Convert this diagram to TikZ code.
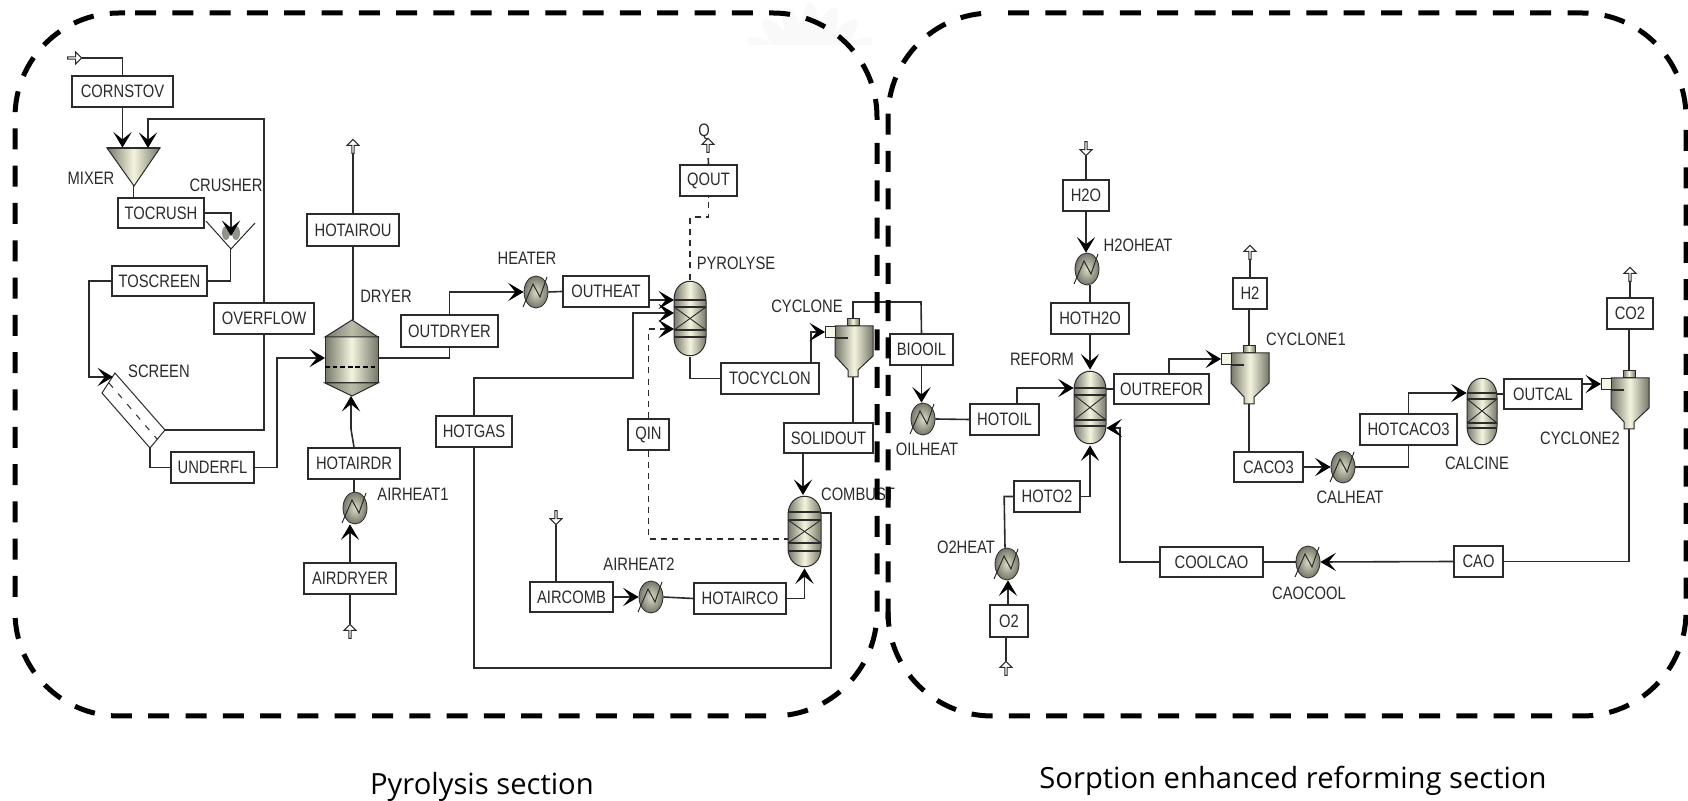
\documentclass[tikz,border=0pt]{standalone}
\usepackage{fontspec}
\usetikzlibrary{arrows.meta,shapes.geometric,shapes.arrows,calc}
\newfontfamily\lblf[FakeStretch=0.82]{Liberation Sans}
\newfontfamily\capf{Open Sans}
\definecolor{ink}{HTML}{2B2B2B}
\definecolor{gdark}{HTML}{77776A}
\definecolor{gmid}{HTML}{F4F4DE}
\tikzset{
  x=0.5pt,y=-0.5pt,
  barb/.tip={Stealth[length=7.8pt,width=9.2pt,inset=3.7pt,line width=0.5pt,color=black]},
  line/.style={draw=ink,line width=0.8pt},
  flow/.style={line,-barb},
  qline/.style={draw=ink,line width=0.8pt,dash pattern=on 3pt off 2.6pt},
  sbox/.style={draw=ink,line width=0.85pt,fill=white,inner sep=0pt,text=ink,font=\lblf\fontsize{9}{10}\selectfont},
  lbl/.style={inner sep=0pt,text=ink,font=\lblf\fontsize{9}{10}\selectfont},
  equip/.style={inner sep=0pt,rectangle},
  hxn/.style={ellipse,draw=ink,line width=0.4pt,inner color=gmid!80!gdark,outer color=gdark,inner sep=0pt,minimum width=12pt,minimum height=16pt},
  body/.style={draw=ink,line width=0.5pt,left color=gdark,right color=gdark,middle color=gmid},
  darkbody/.style={body,middle color=gmid!55!gdark},
  portup/.style={single arrow,draw=ink,fill=white,line width=0.5pt,minimum width=6pt,minimum height=7pt,single arrow head extend=1pt,inner sep=0pt,shape border rotate=90},
  portdown/.style={portup,shape border rotate=270},
  portright/.style={portup,shape border rotate=0},
  dashbox/.style={draw=black,line width=2.5pt,dash pattern=on 10.5pt off 8.15pt,rounded corners=52pt},
  capt/.style={inner sep=0pt,text=black,font=\capf\fontsize{14.6}{16}\selectfont},
}
\newcommand\bx[6]{%
  \pgfmathsetmacro\bxw{(#4-#2)/2}\pgfmathsetmacro\bxh{(#5-#3)/2}%
  \node[sbox,minimum width=\bxw pt,minimum height=\bxh pt] (#1) at ({(#2+#4)/2},{(#3+#5)/2}) {#6};}
\newcommand\eqn[5]{%
  \pgfmathsetmacro\bxw{(#4-#2)/2}\pgfmathsetmacro\bxh{(#5-#3)/2}%
  \node[equip,minimum width=\bxw pt,minimum height=\bxh pt] (#1) at ({(#2+#4)/2},{(#3+#5)/2}) {};}
% heat exchanger
\newcommand\hx[3]{%
  \node[hxn] (#1) at (#2,#3) {};
  \draw[draw=ink,line width=0.5pt] ($(#1)+(-13,15)$) -- ($(#1)+(-3,-8)$) -- ($(#1)+(4,5)$) -- ($(#1)+(11,-15)$);}
% reactor: name x0 y0 x1 y1 b1 b2 b3 b4
\newcommand\vessel[9]{%
  \eqn{#1}{#2}{#3}{#4}{#5}
  \path[body] (#2,#3+20) .. controls (#2,#3-5) and (#4,#3-5) .. (#4,#3+20) -- (#4,#5-20) .. controls (#4,#5+5) and (#2,#5+5) .. (#2,#5-20) -- cycle;
  \draw[draw=ink,line width=0.9pt] (#2,#6) -- (#4,#6) (#2,#7) -- (#4,#7) (#2,#8) -- (#4,#8) (#2,#9) -- (#4,#9);
  \draw[draw=ink,line width=0.45pt] (#2,#7) -- (#4,#8) (#4,#7) -- (#2,#8);}
% cyclone: name, x0 (body left), ytop
\newcommand\cyclone[3]{%
  \eqn{#1}{#2}{#3}{#2+38}{#3+51}
  \coordinate (#1-top) at (#2+18,#3-7);
  \coordinate (#1-bot) at (#2+18,#3+51);
  \coordinate (#1-in) at (#2-10,#3+6);
  \path[body] (#2+12,#3-7) rectangle (#2+24,#3);
  \path[body] (#2,#3) -- (#2+38,#3) -- (#2+38,#3+30) -- (#2+23,#3+44) -- (#2+23,#3+51) -- (#2+13,#3+51) -- (#2+13,#3+44) -- (#2,#3+30) -- cycle;
  \draw[draw=ink,line width=0.5pt,fill=gmid!70!white] (#2-10,#3+1) rectangle (#2,#3+12);
  \draw[draw=ink,line width=0.6pt] (#2,#3+12) -- (#2+13,#3+12);}
\begin{document}
\begin{tikzpicture}
\useasboundingbox[fill=white] (0,0) rectangle (1688,801);

% faint background crest, cut off below
\begin{scope}
\clip (735,2) rectangle (885,45);
\foreach \a in {-60,-40,-20,0,20,40,60}
  \fill[black!2.5,rotate around={\a:(810,75)}] (810,35) ellipse (9 and 32);
\end{scope}

% ---------- equipment: pyrolysis ----------
\eqn{mixer}{107}{148}{160}{186}
\path[body] (107,148) -- (160,148) -- (134,186) -- cycle;
\draw[draw=ink,line width=0.9pt] (107,148) -- (160,148);
\eqn{crusher}{206}{221}{255}{249}
\fill[gdark!80!white] (226,233) ellipse (4 and 7) (236,233) ellipse (4 and 7);
\draw[draw=ink,line width=0.5pt] (206,221) -- (231,249) -- (255,223);
\coordinate (scr-in) at (113,377);
\coordinate (scr-top) at (165,430);
\coordinate (scr-bot) at (150,448);
\draw[draw=ink,line width=0.5pt,fill=white] (115,373) -- (scr-top) -- (scr-bot) -- (102,393) -- cycle;
\draw[draw=ink,line width=0.5pt,dash pattern=on 3pt off 4pt] (109,383) -- (157,439);
\eqn{dryer}{325}{320}{378}{396}
\path[body] (325,337) rectangle (378,383);
\path[darkbody] (352,320) -- (378,337) -- (325,337) -- cycle;
\path[darkbody] (352,396) -- (378,383) -- (325,383) -- cycle;
\draw[draw=black,line width=0.9pt,dash pattern=on 2.4pt off 1.4pt] (325,367) -- (378,367);
\vessel{pyrolyse}{674}{280}{706}{357}{300}{307}{330}{337}
\vessel{combust}{788}{495}{821}{568}{512}{520}{543}{551}
\cyclone{cyclone}{835}{326}
\hx{heater}{536}{292}
\hx{airheatA}{355}{508}
\hx{airheatB}{651}{597}

% ---------- equipment: reforming ----------
\vessel{reform}{1074}{370}{1106}{445}{388}{395}{420}{426}
\vessel{calcine}{1467}{377}{1497}{446}{393}{399}{423}{428}
\cyclone{cyclonea}{1231}{353}
\cyclone{cycloneb}{1611}{378}
\hx{oilheat}{923}{419}
\hx{htwoheat}{1087}{269}
\hx{calheat}{1343}{467}
\hx{caocool}{1308}{562}
\hx{otwoheat}{1007}{564}

% ---------- boundary ports ----------
\node[portright] (pfeed) at (74,58) {};
\node[portup] (pairout) at (353,147) {};
\node[portup] (pairin) at (350,632) {};
\node[portup] (pq) at (708,146) {};
\node[portdown] (paircomb) at (556,517) {};
\node[portdown] (ph2o) at (1086,148) {};
\node[portup] (ph2) at (1250,253) {};
\node[portup] (pco2) at (1630,275) {};
\node[portup] (po2) at (1006,669) {};

% ---------- stream boxes ----------
\bx{cornstov}{72}{76}{173}{107}{CORNSTOV}
\bx{tocrush}{118}{198}{204}{228}{TOCRUSH}
\bx{toscreen}{112}{266}{207}{296}{TOSCREEN}
\bx{overflow}{214}{303}{314}{334}{OVERFLOW}
\bx{underfl}{171}{452}{254}{483}{UNDERFL}
\bx{hotairou}{307}{214}{399}{246}{HOTAIROU}
\bx{hotairdr}{308}{448}{400}{479}{HOTAIRDR}
\bx{airdryer}{304}{563}{396}{594}{AIRDRYER}
\bx{outdryer}{401}{315}{498}{347}{OUTDRYER}
\bx{outheat}{563}{276}{649}{307}{OUTHEAT}
\bx{qout}{680}{165}{737}{196}{QOUT}
\bx{hotgas}{436}{416}{512}{447}{HOTGAS}
\bx{qin}{628}{419}{669}{450}{QIN}
\bx{tocyclon}{721}{363}{819}{394}{TOCYCLON}
\bx{solidout}{784}{423}{873}{453}{SOLIDOUT}
\bx{aircomb}{530}{582}{613}{612}{AIRCOMB}
\bx{hotairco}{694}{583}{786}{614}{HOTAIRCO}
\bx{biooil}{890}{334}{953}{365}{BIOOIL}
\bx{hotoil}{970}{404}{1039}{435}{HOTOIL}
\bx{h2o}{1063}{180}{1109}{211}{H2O}
\bx{hoth2o}{1051}{303}{1129}{334}{HOTH2O}
\bx{outrefor}{1114}{374}{1209}{404}{OUTREFOR}
\bx{h2}{1233}{278}{1267}{309}{H2}
\bx{caco3}{1234}{452}{1303}{482}{CACO3}
\bx{hotcaco3}{1360}{414}{1457}{445}{HOTCACO3}
\bx{outcal}{1504}{379}{1582}{409}{OUTCAL}
\bx{co2}{1607}{298}{1653}{329}{CO2}
\bx{cao}{1454}{546}{1503}{577}{CAO}
\bx{coolcao}{1160}{547}{1263}{577}{COOLCAO}
\bx{hoto2}{1014}{481}{1080}{512}{HOTO2}
\bx{o2}{990}{605}{1028}{637}{O2}

% ---------- connectors: pyrolysis ----------
\coordinate (mix-in2) at (148,148);
\coordinate (ovf-top) at (148,119);
\coordinate (dry-in) at (325,358);
\coordinate (pyr-in1) at (674,300);
\coordinate (pyr-in2) at (674,313);
\coordinate (pyr-in3) at (674,329);
\draw[line] (pfeed.tip) -| (cornstov.north);
\draw[flow] (cornstov.south) -- (cornstov.south |- mixer.north);
\draw[flow] (overflow.north) |- (ovf-top) -- (mix-in2);
\draw[line] (mixer.south) -- (mixer.south |- tocrush.north);
\draw[flow] (tocrush.east) -| (231,236);
\draw[line] (crusher.south) |- (toscreen.east);
\draw[flow] (toscreen.west) -- ++(-22,0) |- (scr-in);
\draw[line] (scr-top) -| (overflow.south);
\draw[line] (scr-bot) |- (underfl.west);
\draw[flow] (underfl.east) -- ++(22,0) |- (dry-in);
\draw[line] (dryer.north -| hotairou.south) -- (hotairou.south);
\draw[line] (hotairou.north) -- (pairout.tip |- hotairou.north) -- (pairout.tail);
\draw[flow] (hotairdr.north) -- ++(-3,-18) -- (351,396);
\draw[line] (airheatA.north -| hotairdr.south) -- (hotairdr.south);
\draw[flow] (airdryer.north) -- (airdryer.north |- airheatA.south);
\draw[line] (pairin.tip) -- (pairin.tip |- airdryer.south);
\draw[line] (dryer.east |- dry-in) -| (outdryer.south);
\draw[flow] (outdryer.north) |- (heater.west);
\draw[line] (heater.east) -- (outheat.west);
\draw[flow] (outheat.east |- pyr-in1) -- (pyr-in1);
\draw[flow] (hotgas.north) |- (633,378) |- (pyr-in2);
\draw[line] (hotgas.south) |- (831,668) |- (combust.east |- 0,513);
\draw[line] (pyrolyse.south) |- (tocyclon.west);
\draw[flow] (tocyclon.north -| 811,0) |- (cyclone-in);
\draw[line] (cyclone-bot) -- (cyclone-bot |- solidout.north);
\draw[flow] (solidout.south -| 803,0) -- (803,495);
\draw[line] (aircomb.north -| paircomb.tip) -- (paircomb.tip);
\draw[flow] (aircomb.east) -- (airheatB.west);
\draw[line] (airheatB.east) -- (hotairco.west);
\draw[flow] (hotairco.east) -| (combust.south);
\draw[qline] (pyrolyse.north) |- (qout.south |- 0,217) -- (qout.south);
\draw[qline] (qout.north) -- (pq.tail);
\draw[qline] (qin.north) |- (662,329);
\draw[flow] (662,329) -- (pyr-in3);
\draw[qline] (qin.south) |- (combust.west |- 0,539);

% ---------- connectors: reforming ----------
\draw[line] (cyclone-top) |- (921,302) -- (biooil.north);
\draw[flow] (biooil.south) -- (oilheat.north -| biooil.south);
\draw[line] (oilheat.east) -- (hotoil.west);
\draw[flow] (hotoil.north -| 1017,0) |- (reform.west |- 0,388);
\draw[line] (ph2o.tip) -- (h2o.north);
\draw[flow] (h2o.south) -- (htwoheat.north -| h2o.south);
\draw[line] (htwoheat.south -| hoth2o.north) -- (hoth2o.north);
\draw[flow] (hoth2o.south) -- (reform.north);
\draw[line] (reform.east |- outrefor.west) -- (outrefor.west);
\draw[flow] (outrefor.north -| 1169,0) |- (cyclonea-in);
\draw[line] (cyclonea-top) -- (h2.south -| cyclonea-top);
\draw[line] (h2.north) -- (ph2.tail);
\draw[line] (cyclonea-bot) -- (caco3.north -| cyclonea-bot);
\draw[flow] (caco3.east) -- (calheat.west);
\draw[line] (calheat.east) -| (hotcaco3.south);
\draw[flow] (hotcaco3.north) |- (calcine.west |- 0,393);
\draw[line] (calcine.east |- outcal.west) -- (outcal.west);
\draw[flow] (outcal.east |- cycloneb-in) -- (cycloneb-in);
\draw[line] (cycloneb-top) -- (co2.south -| cycloneb-top);
\draw[line] (co2.north) -- (pco2.tail);
\draw[line] (cycloneb-bot) |- (cao.east);
\draw[flow] (cao.west) -- (caocool.east);
\draw[line] (caocool.west) -- (coolcao.east);
\draw[flow] (coolcao.west) -- ++(-39,0) |- (reform.east |- 0,428);
\draw[flow] (hoto2.east) -| (reform.south);
\draw[line] (hoto2.west) -- ++(-9,0) -- (otwoheat.north -| 1005,0);
\draw[flow] (o2.north -| 1008,0) -- (otwoheat.south -| 1008,0);
\draw[line] (po2.tip) -- (o2.south -| po2.tip);

% ---------- labels ----------
\node[lbl] (l1) at (91,178) {MIXER};
\node[lbl] (l2) at (226,185) {CRUSHER};
\node[lbl] (l3) at (159,371) {SCREEN};
\node[lbl] (l4) at (386,296) {DRYER};
\node[lbl] (l5) at (413,494) {AIRHEAT1};
\node[lbl] (l6) at (527,258) {HEATER};
\node[lbl] (l7) at (736,263) {PYROLYSE};
\node[lbl] (l8) at (704,132) {Q};
\node[lbl] (l9) at (807,306) {CYCLONE};
\node[lbl] (l10) at (858,494) {COMBUST};
\node[lbl] (l11) at (639,564) {AIRHEAT2};
\node[lbl] (l12) at (927,449) {OILHEAT};
\node[lbl] (l13) at (1138,245) {H2OHEAT};
\node[lbl] (l14) at (1042,359) {REFORM};
\node[lbl] (l15) at (1306,339) {CYCLONE1};
\node[lbl] (l16) at (1350,497) {CALHEAT};
\node[lbl] (l17) at (1477,463) {CALCINE};
\node[lbl] (l18) at (1580,438) {CYCLONE2};
\node[lbl] (l19) at (1309,593) {CAOCOOL};
\node[lbl] (l20) at (966,547) {O2HEAT};
\node[capt] (c1) at (482,787) {Pyrolysis section};
\node[capt] (c2) at (1293,781) {Sorption enhanced reforming section};

% ---------- section boundaries (pieces keep the dash phase) ----------
\draw[dashbox] (135,13) -- (877,13) -- (877,125);
\draw[dashbox] (877,143) -- (877,716) -- (772,716);
\draw[dashbox] (766,716) -- (15,716) -- (15,610);
\draw[dashbox] (15,597) -- (15,13) -- (125,13);
\draw[dashbox] (1008,13) -- (1686,13) -- (1686,117);
\draw[dashbox] (1686,130) -- (1686,716) -- (1572,716);
\draw[dashbox] (1552,716) -- (888,716) -- (888,625);
\draw[dashbox] (888,619.6) -- (888,13) -- (995,13);
\end{tikzpicture}
\end{document}
